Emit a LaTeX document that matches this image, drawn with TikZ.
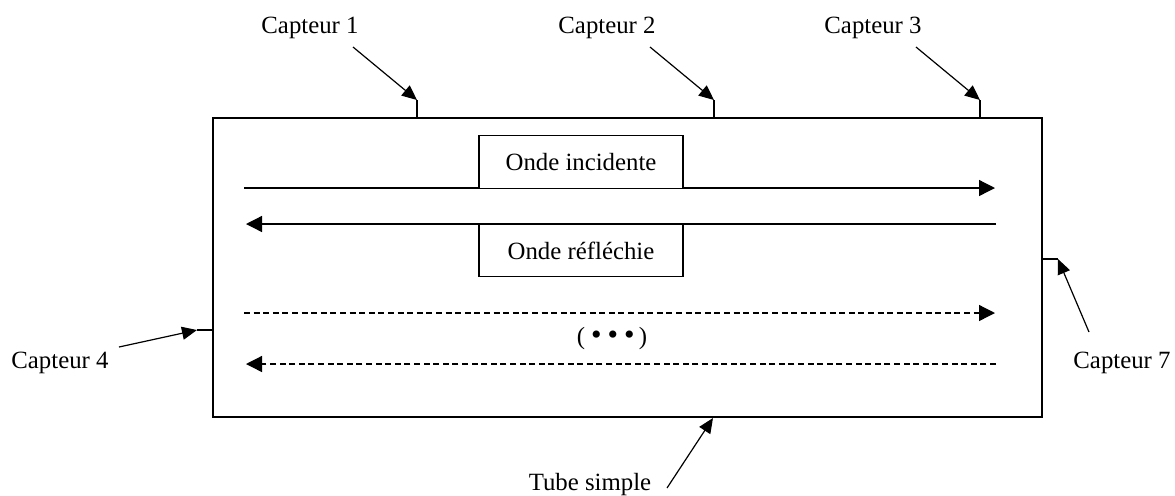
\documentclass[tikz,border=0pt]{standalone}
\usepackage{fontspec}
\setmainfont{Liberation Serif}
\usetikzlibrary{arrows.meta}
\tikzset{
  tubeln/.style={line width=0.7pt},
  wave/.style={-{Triangle[length=8pt,width=8pt]},line width=0.65pt},
  wavedash/.style={wave,dash pattern=on 3pt off 1.8pt},
  sens/.style={-{Triangle[length=7.5pt,width=6.5pt]},line width=0.6pt},
  lbl/.style={font=\fontsize{12.4}{15}\selectfont,inner sep=0pt},
  wbox/.style={draw,line width=0.6pt,minimum width=102pt,minimum height=26.3pt,
    inner sep=0pt,fill=white,font=\fontsize{12.4}{15}\selectfont},
}
\newcommand{\bigdot}{{\fontsize{15}{15}\selectfont\textbullet}}
\begin{document}
\begin{tikzpicture}[x=0.5pt,y=-0.5pt]
  \useasboundingbox (0,0) rectangle (1175,495);
  % the tube
  \draw[tubeln] (213,118) rectangle (1042,417);
  % waves travelling in the tube
  \coordinate (inL) at (244,188);  \coordinate (inR) at (995,188);
  \coordinate (reL) at (246,224);  \coordinate (reR) at (996,224);
  \coordinate (d1L) at (244,313);  \coordinate (d1R) at (995,313);
  \coordinate (d2L) at (246,364);  \coordinate (d2R) at (996,364);
  \draw[wave] (inL) -- (inR);
  \draw[wave] (reR) -- (reL);
  \draw[wavedash] (d1L) -- (d1R);
  \draw[wavedash] (d2R) -- (d2L);
  \node[wbox] (inc) at (581,162) {Onde incidente};
  \node[wbox] (ref) at (581,250.5) {Onde réfléchie};
  \node[lbl] (etc) at (612,339) {(\hspace{3pt}\bigdot\hspace{3pt}\bigdot\hspace{3pt}\bigdot\hspace{2pt})};
  % sensors on top
  \foreach \x/\n in {417/1,714/2,980/3}{
    \coordinate (t\n) at (\x,100);
    \draw[line width=0.6pt] (\x,118) -- (t\n);
    \node[lbl,anchor=base] (cap\n) at (\x-107,33) {Capteur \n};
    \coordinate (a\n) at (\x-64,47);
    \draw[sens] (a\n) -- (t\n);
  }
  % side sensors
  \coordinate (t4) at (197,330);
  \draw[line width=0.6pt] (213,330) -- (t4);
  \node[lbl,anchor=base] (cap4) at (60,368) {Capteur 4};
  \coordinate (a4) at (119,347);
  \draw[sens] (a4) -- (t4);
  \coordinate (t7) at (1058,259);
  \draw[line width=0.6pt] (1042,259) -- (t7);
  \node[lbl,anchor=base] (cap7) at (1122,368) {Capteur 7};
  \coordinate (a7) at (1089,332);
  \draw[sens] (a7) -- (t7);
  % tube label
  \coordinate (tb) at (713,418);
  \node[lbl,anchor=base] (tube) at (590,490) {Tube simple};
  \coordinate (atb) at (667,488);
  \draw[sens] (atb) -- (tb);
\end{tikzpicture}
\end{document}
